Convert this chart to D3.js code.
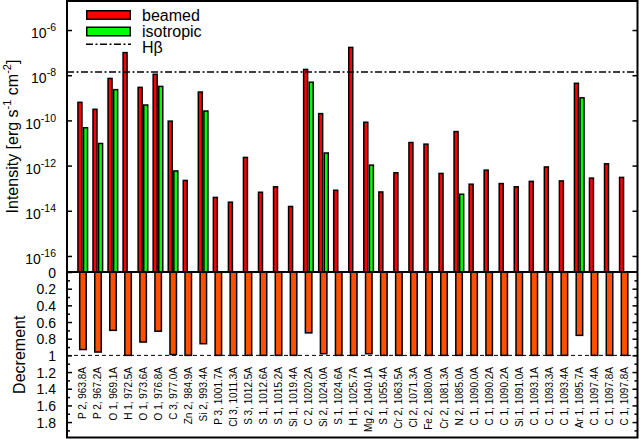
<!DOCTYPE html>
<html>
<head>
<meta charset="utf-8">
<script src="https://cdn.jsdelivr.net/npm/d3@7"></script>
<style>
  html, body { margin: 0; padding: 0; background: #fff; }
  svg { display: block; font-family: "Liberation Sans", Arial, sans-serif; }
</style>
</head>
<body>
<svg id="chart" width="640" height="439"></svg>
<script>
const categories = [
  "P 2, 963.8A", "P 2, 967.2A", "O 1, 969.1A", "H 1, 972.5A", "O 1, 973.6A",
  "O 1, 976.8A", "C 3, 977.0A", "Zn 2, 984.9A", "Si 2, 993.4A", "P 3, 1001.7A",
  "Cl 3, 1011.3A", "S 3, 1012.5A", "S 1, 1012.6A", "S 1, 1015.2A", "Si 1, 1019.4A",
  "C 2, 1020.2A", "Si 2, 1024.0A", "S 1, 1024.6A", "H 1, 1025.7A", "Mg 2, 1040.1A",
  "S 1, 1055.4A", "Cr 2, 1063.5A", "Cl 2, 1071.3A", "Fe 2, 1080.0A", "Cr 2, 1081.3A",
  "N 2, 1085.0A", "C 1, 1090.0A", "C 1, 1090.2A", "C 1, 1090.2A", "Si 1, 1091.0A",
  "C 1, 1093.1A", "C 1, 1093.3A", "C 1, 1093.4A", "Ar 1, 1095.7A", "C 1, 1097.4A",
  "C 1, 1097.8A", "C 1, 1097.8A"
];
const beamed = [
  6.3e-10, 3.1e-10, 7.2e-9, 1.0e-7, 2.9e-9,
  1.1e-8, 9.3e-11, 2.2e-13, 1.8e-9, 3.9e-14,
  2.4e-14, 2.3e-12, 6.6e-14, 1.15e-13, 1.55e-14,
  1.8e-8, 2.0e-10, 8.1e-14, 1.7e-7, 8.3e-11,
  6.8e-14, 4.8e-13, 1.05e-11, 8.9e-12, 4.5e-13,
  3.2e-11, 1.5e-13, 6.3e-13, 1.6e-13, 1.15e-13,
  2.0e-13, 8.7e-13, 2.1e-13, 4.4e-9, 2.8e-13,
  1.2e-12, 3.0e-13
];
const isotropic = [
  4.7e-11, 9.5e-12, 2.3e-9, null, 4.8e-10,
  3.2e-9, 5.8e-13, null, 2.6e-10, null,
  null, null, null, null, null,
  4.9e-9, 3.6e-12, null, null, 1.05e-12,
  null, null, null, null, null,
  5.4e-14, null, null, null, null,
  null, null, null, 1.0e-9, null,
  null, null
];
const decrement = [
  0.93, 0.96, 0.70, 1.0, 0.84,
  0.71, 0.99, 1.0, 0.86, 1.0,
  1.0, 1.0, 1.0, 1.0, 1.0,
  0.73, 0.98, 1.0, 1.0, 0.98,
  1.0, 1.0, 1.0, 1.0, 1.0,
  1.0, 1.0, 1.0, 1.0, 1.0,
  1.0, 1.0, 1.0, 0.76, 1.0,
  1.0, 1.0
];
const hBeta = 1.4e-8;
const intensityTicks = [1e-6, 1e-8, 1e-10, 1e-12, 1e-14, 1e-16];
const intensityTickExp = ["-6", "-8", "-10", "-12", "-14", "-16"];
const decrementTicks = [0, 0.2, 0.4, 0.6, 0.8, 1.0, 1.2, 1.4, 1.6, 1.8];
const decrementMinor = [0.1, 0.3, 0.5, 0.7, 0.9, 1.1, 1.3, 1.5, 1.7, 1.9];
const legendLabels = ["beamed", "isotropic", "H\u03B2"];

const svg = d3.select("#chart");
const L = 67, R = 637.5, T = 1, MID = 272, B = 437.5;
const RED = "#ff0000", GREEN = "#00ff00", ORANGE = "#ff5000";

const x = d3.scaleLinear().domain([-1.06, 36.86]).range([L, R]);
const yTop = d3.scaleLog().domain([Math.pow(10, -16.71), Math.pow(10, -4.715)]).range([MID, T]);
const yBot = d3.scaleLinear().domain([0, 1.985]).range([MID, B]);

const idx = d3.range(categories.length);

// Upper panel bars
const upper = svg.append("g");
upper.selectAll("rect.beamed").data(idx).join("rect")
  .attr("class", "beamed")
  .attr("x", i => x(i) - 5)
  .attr("width", 4)
  .attr("y", i => yTop(beamed[i]))
  .attr("height", i => MID - yTop(beamed[i]))
  .attr("fill", RED).attr("stroke", "#000").attr("stroke-width", 1.5);
upper.selectAll("rect.iso").data(idx.filter(i => isotropic[i] != null)).join("rect")
  .attr("class", "iso")
  .attr("x", i => x(i) + 0.6)
  .attr("width", 4)
  .attr("y", i => yTop(isotropic[i]))
  .attr("height", i => MID - yTop(isotropic[i]))
  .attr("fill", GREEN).attr("stroke", "#000").attr("stroke-width", 1.5);

// Lower panel bars
svg.append("g").selectAll("rect").data(idx).join("rect")
  .attr("x", i => x(i) - 3.25)
  .attr("width", 6.5)
  .attr("y", MID)
  .attr("height", i => yBot(decrement[i]) - MID)
  .attr("fill", ORANGE).attr("stroke", "#000").attr("stroke-width", 1.5);

// H beta line
svg.append("line")
  .attr("x1", L).attr("x2", R)
  .attr("y1", yTop(hBeta)).attr("y2", yTop(hBeta))
  .attr("stroke", "#000").attr("stroke-width", 1.5)
  .attr("stroke-dasharray", "7,2.5,2,2.5");

// Decrement = 1 dashed line
svg.append("line")
  .attr("x1", L).attr("x2", R)
  .attr("y1", yBot(1)).attr("y2", yBot(1))
  .attr("stroke", "#000").attr("stroke-width", 1)
  .attr("stroke-dasharray", "4,3");

// Axes
function styleAxis(g) {
  g.select(".domain").remove();
  g.selectAll(".tick line").attr("stroke", "#000").attr("stroke-width", 1.5);
  g.selectAll(".tick text").attr("fill", "#000");
}

const gTopL = svg.append("g").attr("transform", `translate(${L},0)`)
  .call(d3.axisLeft(yTop).tickValues(intensityTicks).tickSize(-5).tickPadding(11).tickFormat(() => ""))
  .call(styleAxis);
gTopL.selectAll(".tick text").attr("font-size", 14).attr("dy", "0.55em")
  .each(function(d, i) {
    const t = d3.select(this);
    t.append("tspan").text("10");
    t.append("tspan").attr("dy", -7).attr("font-size", 10.5).text(intensityTickExp[i]);
  });
svg.append("g").attr("transform", `translate(${R},0)`)
  .call(d3.axisRight(yTop).tickValues(intensityTicks).tickSize(-5).tickFormat(() => ""))
  .call(styleAxis);

const gBotL = svg.append("g").attr("transform", `translate(${L},0)`)
  .call(d3.axisLeft(yBot).tickValues(decrementTicks).tickSize(-5).tickPadding(11)
    .tickFormat(d => String(+d.toFixed(1))))
  .call(styleAxis);
gBotL.selectAll(".tick text").attr("font-size", 14).attr("dy", "0.36em");
svg.append("g").attr("transform", `translate(${L},0)`)
  .call(d3.axisLeft(yBot).tickValues(decrementMinor.filter(v => v < 1.98)).tickSize(-3).tickFormat(() => ""))
  .call(styleAxis);
svg.append("g").attr("transform", `translate(${R},0)`)
  .call(d3.axisRight(yBot).tickValues(decrementTicks.slice(1)).tickSize(-5).tickFormat(() => ""))
  .call(styleAxis);
svg.append("g").attr("transform", `translate(${R},0)`)
  .call(d3.axisRight(yBot).tickValues(decrementMinor.filter(v => v < 1.98)).tickSize(-3).tickFormat(() => ""))
  .call(styleAxis);

// Category labels
svg.append("g").selectAll("text").data(idx).join("text")
  .attr("transform", i => `translate(${x(i) + 3.5},367) rotate(-90)`)
  .attr("text-anchor", "end")
  .attr("font-size", 10)
  .attr("fill", "#000")
  .text(i => categories[i]);

// Frame
svg.append("rect").attr("x", L).attr("y", T).attr("width", R - L).attr("height", B - T)
  .attr("fill", "none").attr("stroke", "#000").attr("stroke-width", 2);
svg.append("line").attr("x1", L).attr("x2", R).attr("y1", MID).attr("y2", MID)
  .attr("stroke", "#000").attr("stroke-width", 2);

// Axis titles
const t1 = svg.append("text")
  .attr("transform", `translate(18,${(T + MID) / 2}) rotate(-90)`)
  .attr("text-anchor", "middle").attr("font-size", 16).attr("fill", "#000");
t1.append("tspan").text("Intensity [erg s");
t1.append("tspan").attr("dy", -7).attr("font-size", 11).text("-1");
t1.append("tspan").attr("dy", 7).text(" cm");
t1.append("tspan").attr("dy", -7).attr("font-size", 11).text("-2");
t1.append("tspan").attr("dy", 7).text("]");

svg.append("text")
  .attr("transform", `translate(25,${(yBot(0) + B) / 2 + 0}) rotate(-90)`)
  .attr("text-anchor", "middle").attr("font-size", 16).attr("fill", "#000")
  .text("Decrement");

// Legend
const lg = svg.append("g");
lg.append("rect").attr("x", 86.75).attr("y", 10.75).attr("width", 43.5).attr("height", 8.5)
  .attr("fill", RED).attr("stroke", "#000").attr("stroke-width", 1.5);
lg.append("rect").attr("x", 86.75).attr("y", 27.25).attr("width", 43.5).attr("height", 8.5)
  .attr("fill", GREEN).attr("stroke", "#000").attr("stroke-width", 1.5);
lg.append("line").attr("x1", 86).attr("x2", 131).attr("y1", 44.3).attr("y2", 44.3)
  .attr("stroke", "#000").attr("stroke-width", 1.5).attr("stroke-dasharray", "7,2.5,2,2.5");
lg.selectAll("text").data(legendLabels).join("text")
  .attr("x", 142).attr("y", (d, i) => 20.5 + i * 16.3)
  .attr("font-size", 16).attr("fill", "#000")
  .text(d => d);
</script>
</body>
</html>
